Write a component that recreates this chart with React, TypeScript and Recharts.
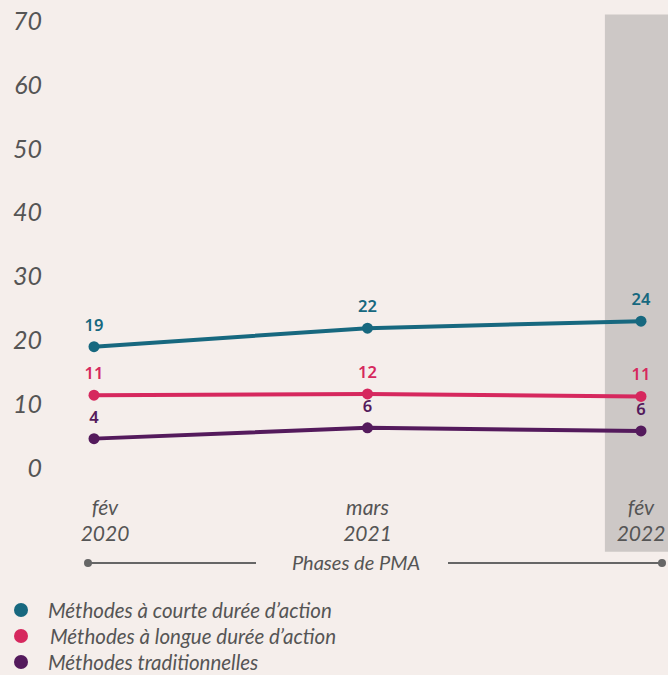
import React from 'react';
import { LineChart, Line, XAxis, YAxis, ReferenceArea, LabelList, Legend } from 'recharts';

const phases = ['fév 2020', 'mars 2021', 'fév 2022'];
const courte = [19.0, 21.9, 23.0];
const longue = [11.4, 11.6, 11.2];
const tradi = [4.6, 6.3, 5.8];
const courteLabels = ['19', '22', '24'];
const longueLabels = ['11', '12', '11'];
const tradiLabels = ['4', '6', '6'];
const yTicks = [0, 10, 20, 30, 40, 50, 60, 70];

const series = [
  { key: 'courte', name: 'Méthodes à courte durée d’action', color: '#17687f', labels: courteLabels },
  { key: 'longue', name: 'Méthodes à longue durée d’action', color: '#d6285e', labels: longueLabels },
  { key: 'tradi', name: 'Méthodes traditionnelles', color: '#541a5c', labels: tradiLabels },
];

const data = phases.map((p, i) => ({
  idx: i,
  phase: p,
  courte: courte[i],
  longue: longue[i],
  tradi: tradi[i],
}));

const FONT = 'Lato, "Noto Sans", sans-serif';
const GREY = '#555555';

function PhaseTick(props: any) {
  const { y, payload } = props;
  // first label sits a little right of its point in the original
  const x = props.x + (payload.value === 0 ? 11 : 0);
  const [m, yr] = phases[payload.value].split(' ');
  return (
    <text x={x} y={y} textAnchor="middle" fontFamily={FONT} fontStyle="italic" fontSize={21} fill={GREY}>
      <tspan x={x} dy={45}>{m}</tspan>
      <tspan x={x} dy={26}>{yr}</tspan>
    </text>
  );
}

function renderPhase(props: any) {
  const vb = props.viewBox;
  const cx = vb.x + vb.width / 2;
  const ly = vb.y + 95;
  const x0 = vb.x + 44;
  const x1 = vb.x + vb.width - 6;
  return (
    <g>
      <line x1={x0} y1={ly} x2={cx - 100} y2={ly} stroke="#666" strokeWidth={2} />
      <line x1={cx + 92} y1={ly} x2={x1} y2={ly} stroke="#666" strokeWidth={2} />
      <circle cx={x0} cy={ly} r={4} fill="#666" />
      <circle cx={x1} cy={ly} r={4} fill="#666" />
      <text x={cx} y={ly + 7} textAnchor="middle" fontFamily={FONT} fontStyle="italic" fontSize={20} fill={GREY}>
        Phases de PMA
      </text>
    </g>
  );
}

function makeValueLabel(labels: string[], color: string) {
  return (props: any) => {
    const { x, y, index } = props;
    return (
      <text x={x} y={y - 16} textAnchor="middle" fontFamily='"Noto Sans", sans-serif' fontWeight={600} fontSize={16.5} fill={color}>
        {labels[index]}
      </text>
    );
  };
}

function LegendBox() {
  return (
    <div style={{ height: 80, paddingTop: 2, boxSizing: 'border-box' }}>
      {series.map((s, i) => (
        <div key={s.key} style={{ display: 'flex', alignItems: 'center', height: 26 }}>
          <span
            style={{ display: 'inline-block', width: 14, height: 14, borderRadius: 7, background: s.color, marginLeft: 14, marginRight: i === 1 ? 22 : 20 }}
          />
          <span style={{ fontFamily: FONT, fontStyle: 'italic', fontSize: 20.5, color: GREY }}>{s.name}</span>
        </div>
      ))}
    </div>
  );
}

export default function App() {
  return (
    <div style={{ position: 'absolute', left: 0, top: 0, width: 668, height: 675, background: '#f5eeeb' }}>
      <LineChart width={668} height={675} data={data} margin={{ top: 21, right: 0, left: 0, bottom: 0 }}>
        <ReferenceArea x1={1.868} x2={2.1} y1={-13.1} y2={71} ifOverflow="visible" fill="#cdc8c6" fillOpacity={1} stroke="none" />
        <XAxis
          dataKey="idx"
          type="number"
          domain={[0, 2]}
          ticks={[0, 1, 2]}
          padding={{ left: 50, right: 27 }}
          axisLine={false}
          tickLine={false}
          tickSize={0}
          height={127}
          tick={<PhaseTick />}
          label={renderPhase}
          interval={0}
        />
        <YAxis
          domain={[0, 70]}
          ticks={yTicks}
          width={44}
          axisLine={false}
          tickLine={false}
          tickSize={0}
          tick={{ fontFamily: FONT, fontStyle: 'italic', fontSize: 25, fill: GREY }}
        />
        <Legend verticalAlign="bottom" align="left" content={<LegendBox />} />
        {series.map((s) => (
          <Line
            key={s.key}
            dataKey={s.key}
            name={s.name}
            stroke={s.color}
            strokeWidth={4}
            dot={{ r: 5.5, fill: s.color, stroke: 'none' }}
            activeDot={false}
            isAnimationActive={false}
          >
            <LabelList dataKey={s.key} content={makeValueLabel(s.labels, s.color)} />
          </Line>
        ))}
      </LineChart>
    </div>
  );
}
